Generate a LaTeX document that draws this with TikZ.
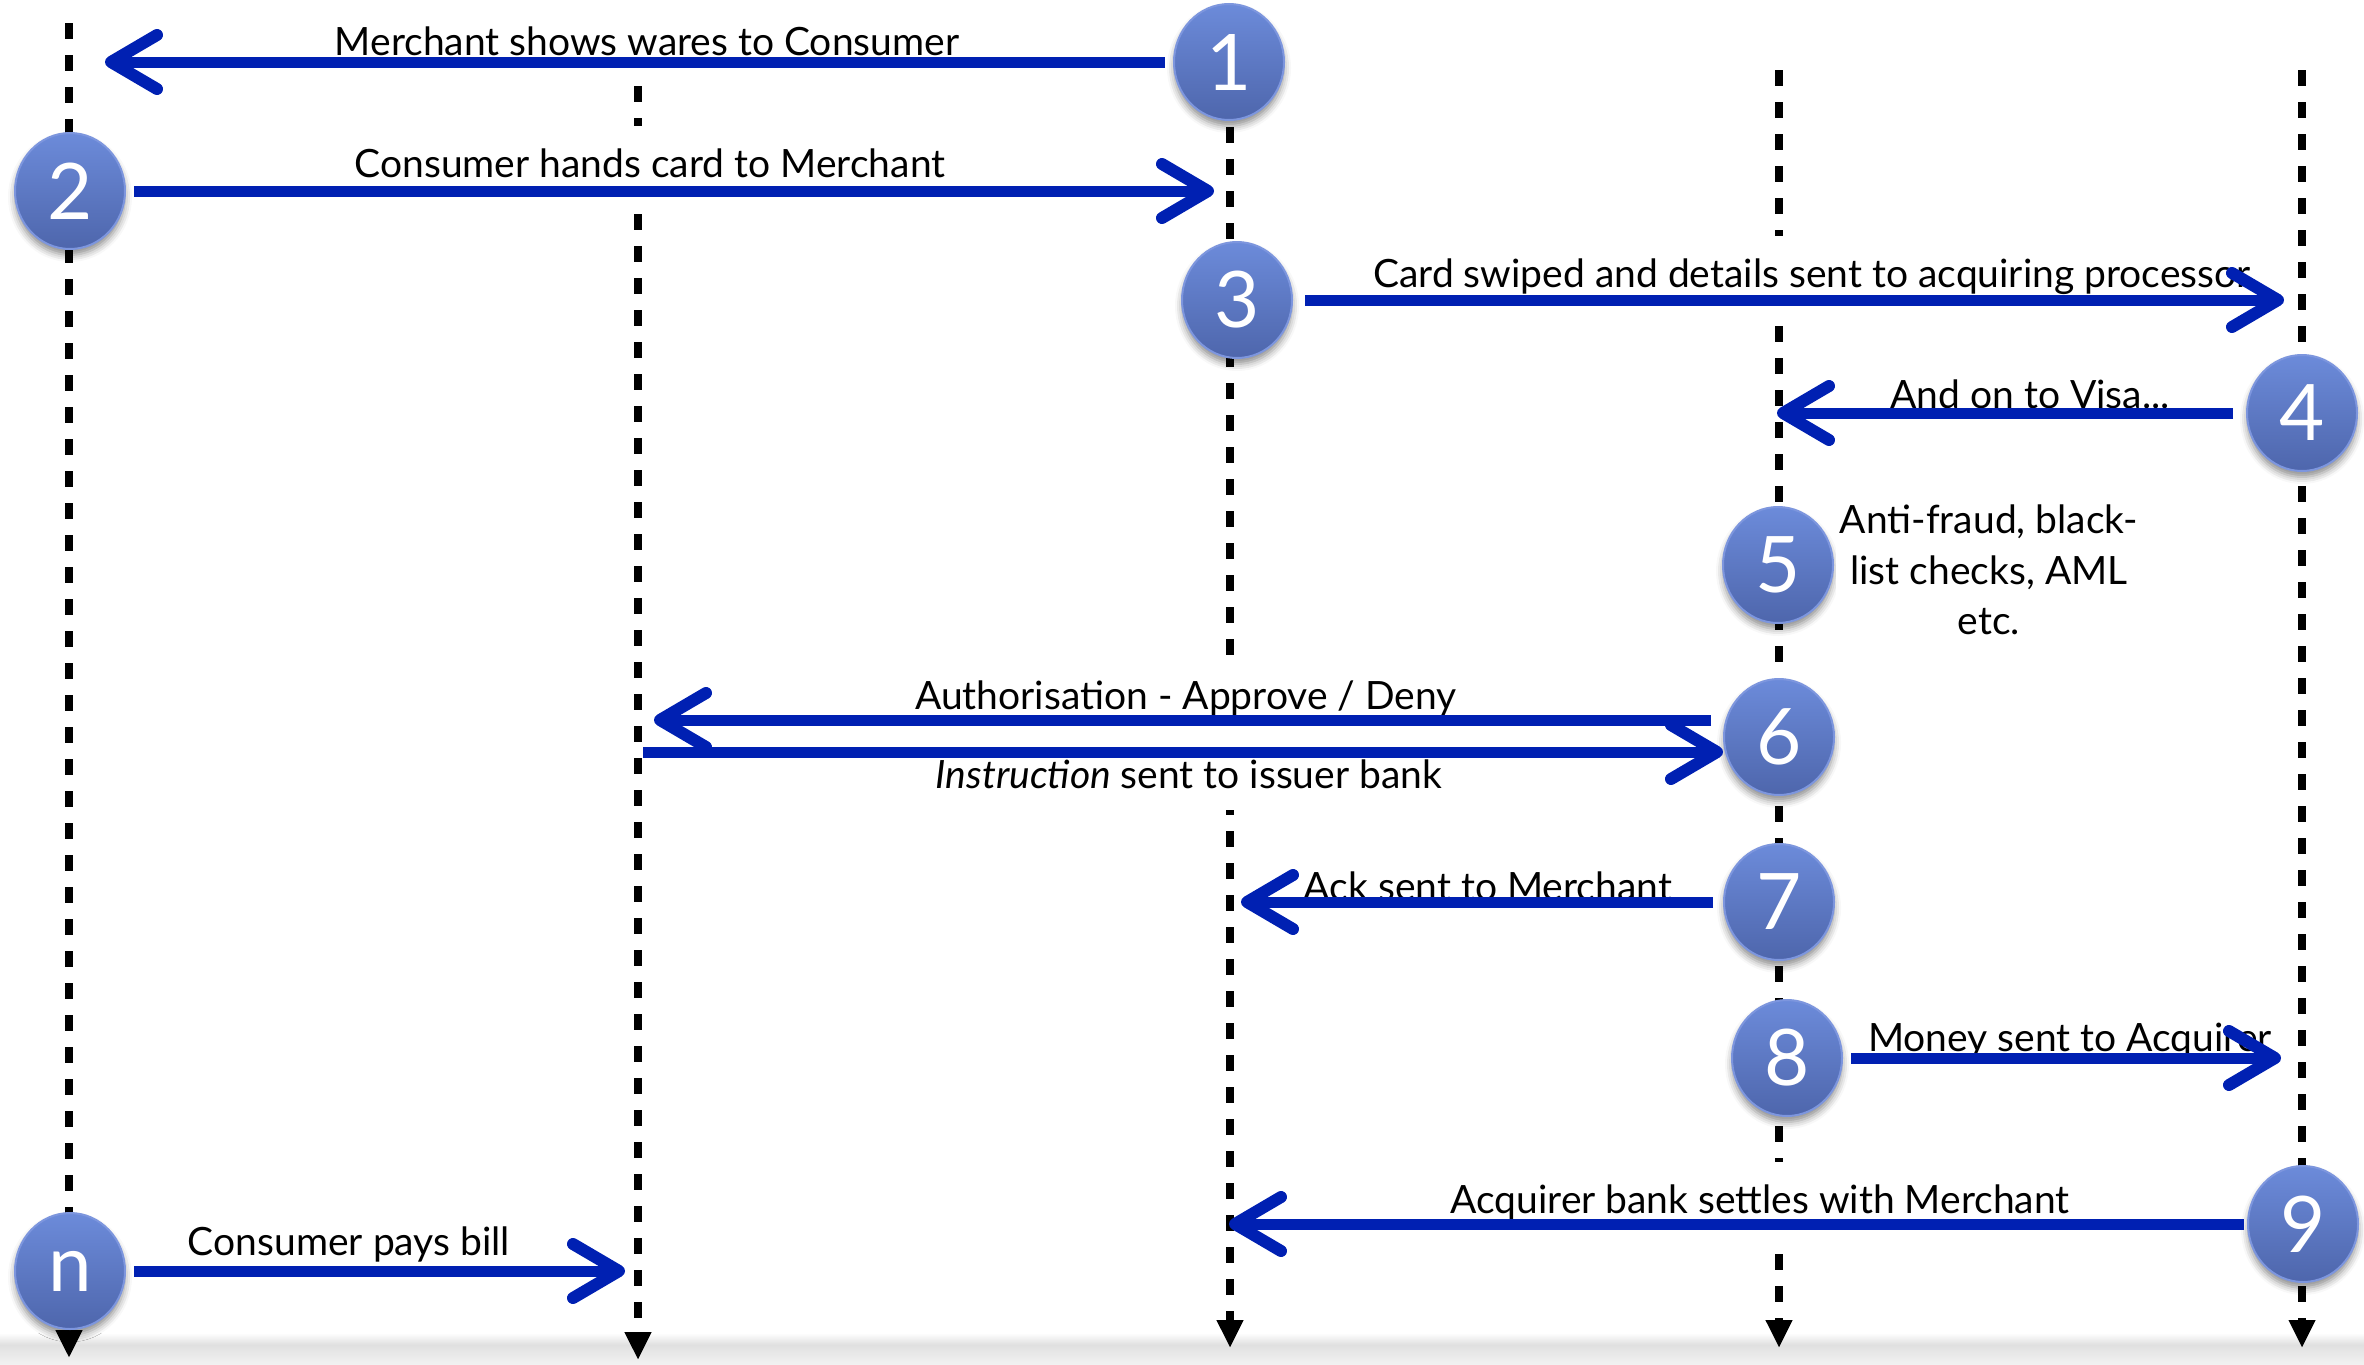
\documentclass[tikz,border=0pt]{standalone}
\usepackage{fontspec}
\setmainfont{Lato}
\usetikzlibrary{arrows.meta,shapes.geometric,shadows.blur}
\definecolor{msgblue}{RGB}{0,32,178}
\definecolor{ctop}{RGB}{108,139,218}
\definecolor{cbot}{RGB}{78,102,172}
\definecolor{cborder}{RGB}{125,150,222}
\newcommand\lblfont{\fontsize{39}{50.5}\selectfont}
\begin{document}
\begin{tikzpicture}[x=1pt,y=-1pt,
  lifeline/.style={draw=black, line width=8.5pt, dash pattern=on 16pt off 16pt, -{Triangle[length=28pt,width=25pt]}},
  msg/.style={draw=msgblue, line width=11pt, -{Straight Barb[length=46pt,width=54pt,line width=12pt,round]}},
  stepnum/.style={ellipse, minimum width=110pt, minimum height=116pt, inner sep=0pt,
    top color=ctop, bottom color=cbot, draw=cborder, line width=2pt, text=white,
    font=\fontsize{78}{78}\selectfont,
    blur shadow={shadow xshift=0pt, shadow yshift=-6pt, shadow blur radius=7pt, shadow opacity=45}},
  lbl/.style={fill=white, inner xsep=4pt, inner ysep=22pt, anchor=base, font=\lblfont},
]
\useasboundingbox (0,0) rectangle (2364,1365);
% bottom band
\shade[top color=white, bottom color=gray!25] (0,1333) rectangle (2364,1345);
\shade[top color=gray!24, bottom color=gray!10] (0,1345) rectangle (2364,1365);

% lifelines
\coordinate (A0) at (69,23);   \coordinate (A1) at (69,1358);
\coordinate (B0) at (638,86);  \coordinate (B1) at (638,1360);
\coordinate (C0) at (1230,63); \coordinate (C1) at (1230,1348);
\coordinate (D0) at (1779,70); \coordinate (D1) at (1779,1348);
\coordinate (E0) at (2302,70); \coordinate (E1) at (2302,1348);
\foreach \l in {A,B,C,D,E} \draw[lifeline] (\l0) -- (\l1);

% step circles
\node[stepnum] (c1) at (1229,62) {1};
\node[stepnum] (c2) at (70,191) {2};
\node[stepnum] (c3) at (1237,300) {3};
\node[stepnum] (c4) at (2302,413) {4};
\node[stepnum] (c5) at (1778,565) {5};
\node[stepnum] (c6) at (1779,737) {6};
\node[stepnum] (c7) at (1779,902) {7};
\node[stepnum] (c8) at (1787,1058) {8};
\node[stepnum] (c9) at (2303,1224) {9};
\node[stepnum] (cn) at (70,1271) {n};

% labels
\node[lbl] (l1) at (647,55) {Merchant shows wares to Consumer};
\node[lbl] (l2) at (650,177) {Consumer hands card to Merchant};
\node[lbl] (l3) at (1812,287) {Card swiped and details sent to acquiring processor};
\node[lbl] (l4) at (2030,408) {And on to Visa...};
\node[fill=white, inner sep=4pt, align=center, font=\lblfont] (l5) at (1989,570) {Anti-fraud, black-\\list checks, AML\\etc.};
\node[lbl] (l6) at (1186,709) {Authorisation - Approve / Deny};
\node[lbl] (l7) at (1189,788) {\textit{Instruction} sent to issuer bank};
\node[lbl] (l8) at (1488,900) {Ack sent to Merchant};
\node[lbl] (l9) at (2070,1051) {Money sent to Acquirer};
\node[lbl] (l10) at (1760,1213) {Acquirer bank settles with Merchant};
\node[lbl] (l11) at (349,1255) {Consumer pays bill};

% arrow end points
\coordinate (t1) at (105,62);
\coordinate (t2) at (1214,191);
\coordinate (t3) at (2284,300);
\coordinate (t4) at (1777,413);
\coordinate (t6a) at (654,720);
\coordinate (s6b) at (643,752);
\coordinate (t7) at (1241,902);
\coordinate (t8) at (2281,1058);
\coordinate (t9) at (1229,1224);
\coordinate (tn) at (625,1271);

% messages
\draw[msg] ([xshift=-8pt]c1.west) -- (t1);
\draw[msg] ([xshift=8pt]c2.east) -- (t2);
\draw[msg] ([xshift=12pt]c3.east) -- (t3);
\draw[msg] ([xshift=-13pt]c4.west) -- (t4);
\draw[msg] ([xshift=-12pt,yshift=17pt]c6.west) -- (t6a);
\draw[msg] (s6b) -- ([yshift=-15pt]c6.west);
\draw[msg] ([xshift=-10pt]c7.west) -- (t7);
\draw[msg] ([xshift=8pt]c8.east) -- (t8);
\draw[msg] ([xshift=-3pt]c9.west) -- (t9);
\draw[msg] ([xshift=8pt]cn.east) -- (tn);
\end{tikzpicture}
\end{document}
